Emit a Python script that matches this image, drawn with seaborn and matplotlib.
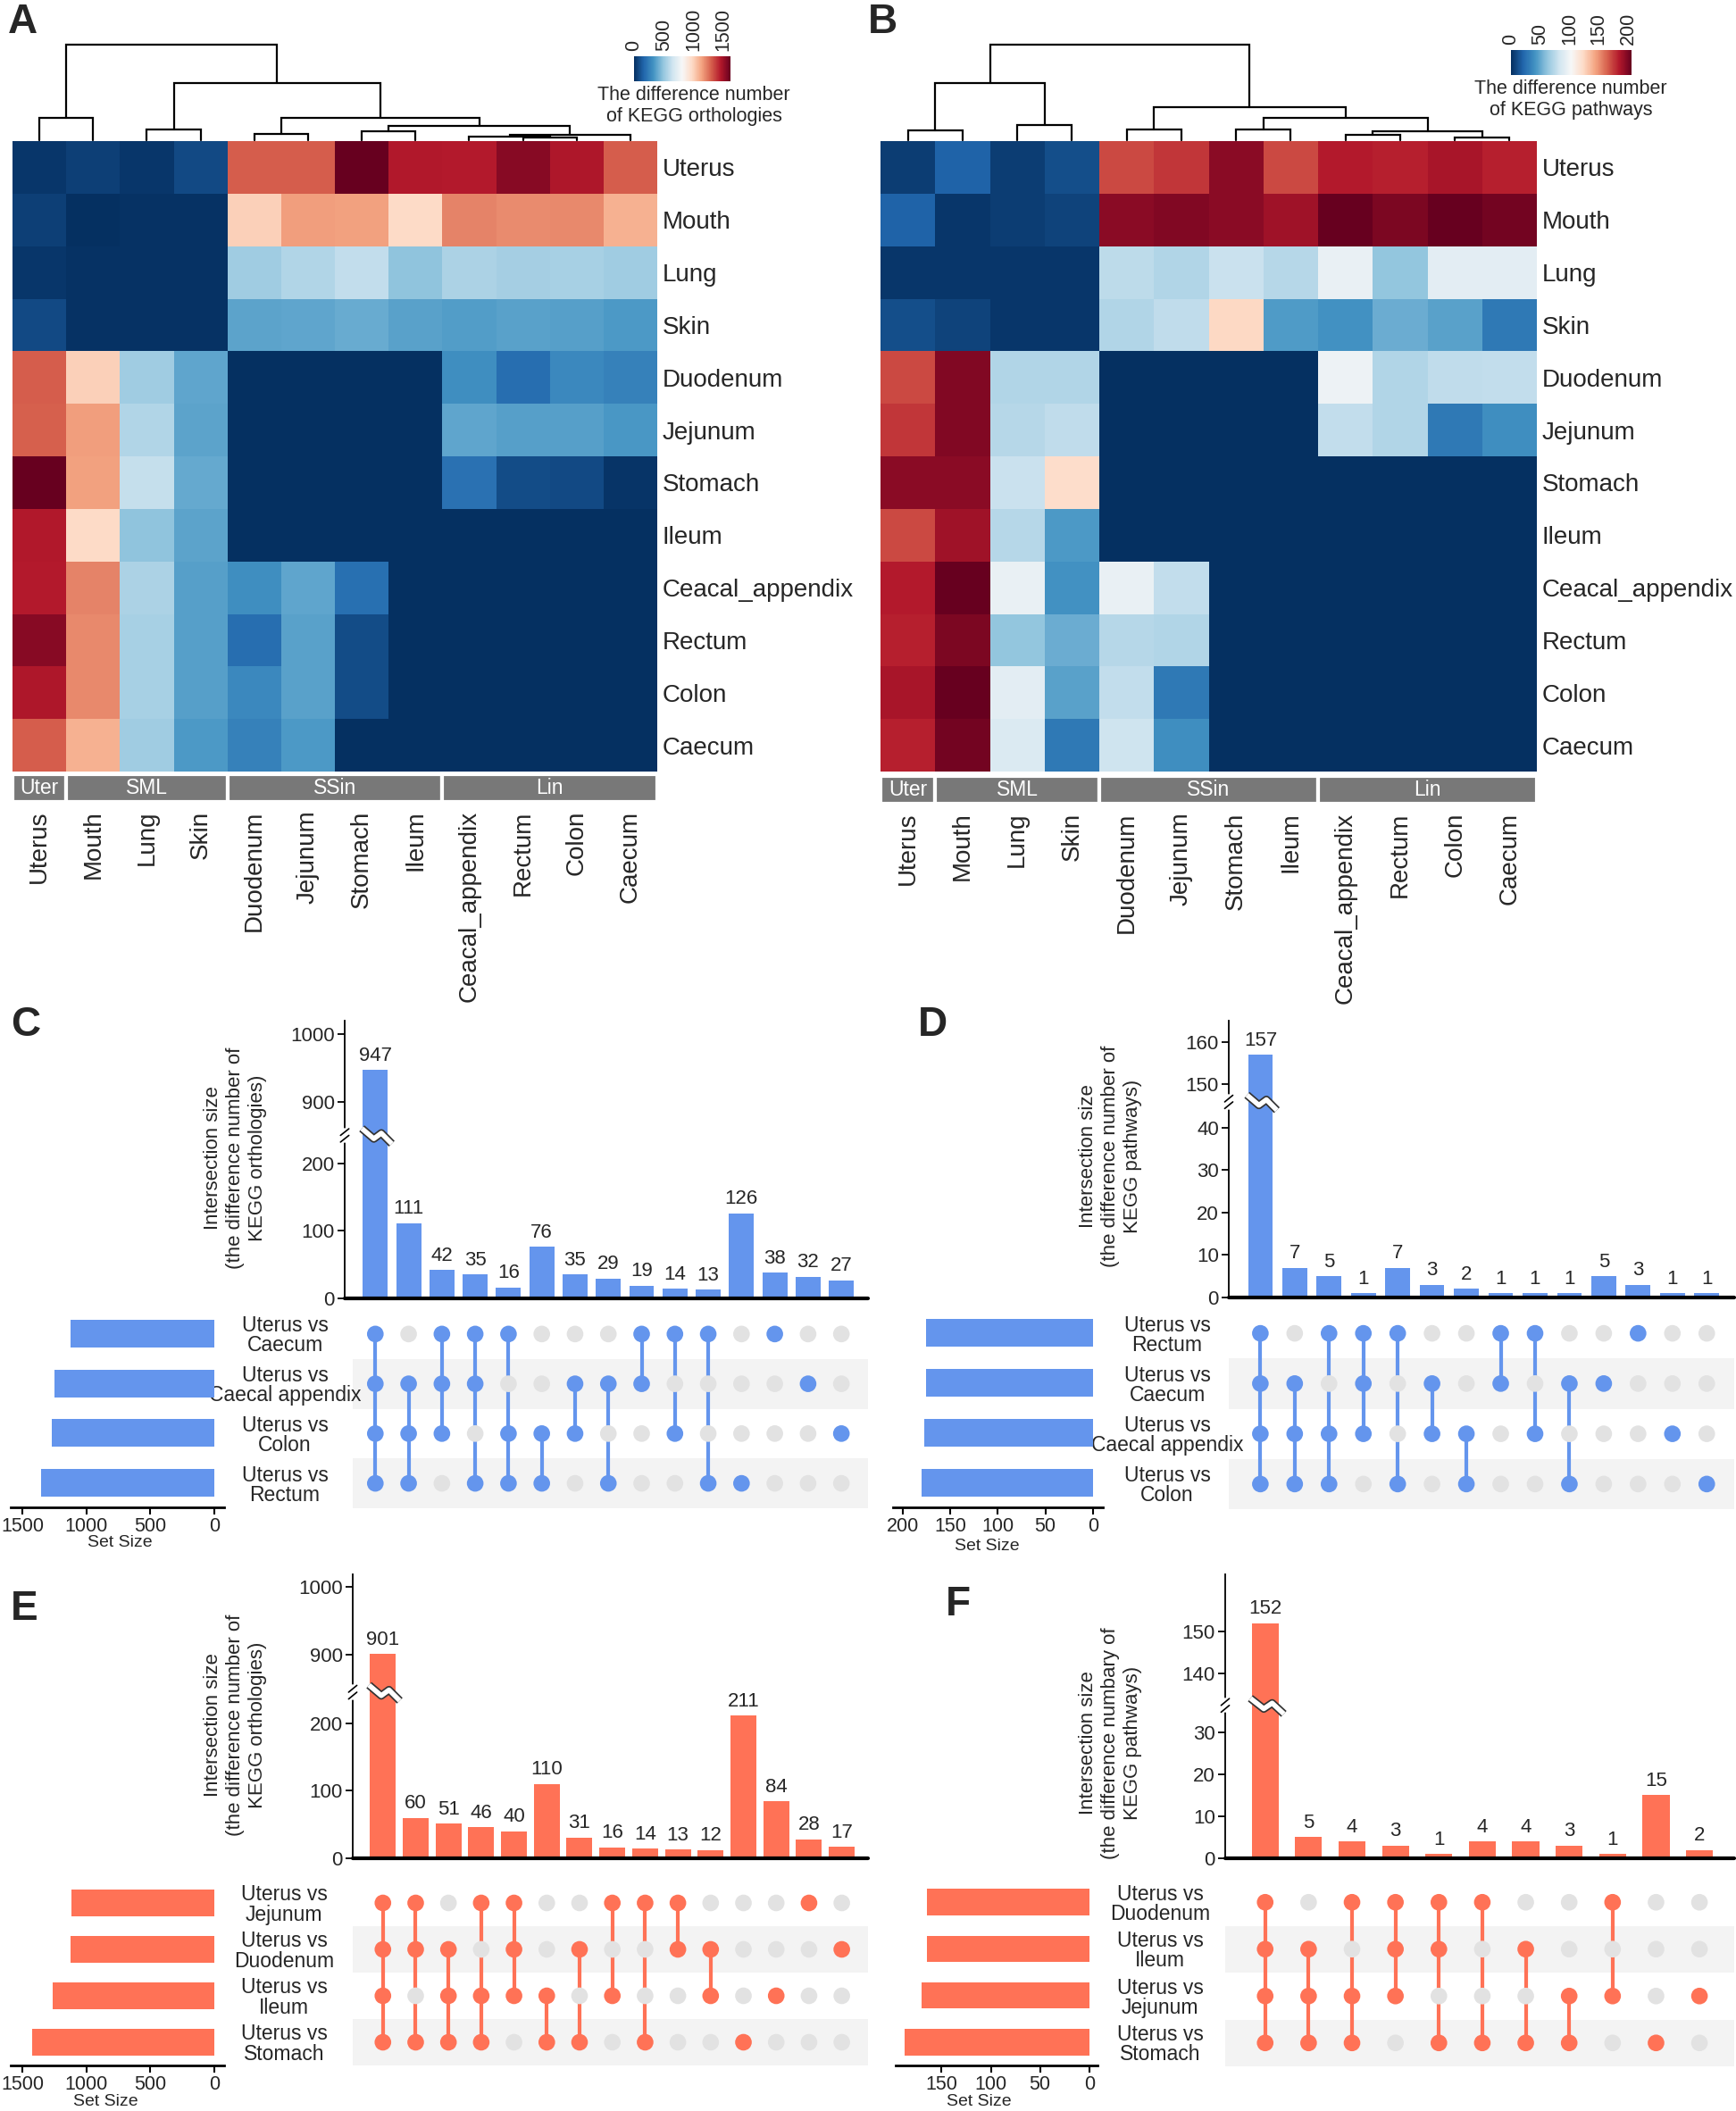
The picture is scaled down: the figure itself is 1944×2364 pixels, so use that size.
import numpy as np
import pandas as pd
import matplotlib
matplotlib.use("Agg")
import matplotlib.pyplot as plt
import matplotlib.transforms as mtransforms
import seaborn as sns

sns.set_theme(style="white")
plt.rcParams['font.family'] = ['Liberation Sans', 'DejaVu Sans']

# ------------------------------------------------------------------ data
tissues = ["Uterus", "Mouth", "Lung", "Skin", "Duodenum", "Jejunum", "Stomach",
           "Ileum", "Ceacal_appendix", "Rectum", "Colon", "Caecum"]
groups = ["Uter", "SML", "SSin", "Lin"]
group_sizes = [1, 3, 4, 4]

ko_matrix = [
    [20, 50, 25, 80, 1300, 1300, 1620, 1460, 1455, 1545, 1465, 1300],
    [50, 5, 10, 10, 1005, 1150, 1140, 970, 1210, 1190, 1200, 1100],
    [20, 10, 10, 10, 520, 565, 610, 486, 555, 535, 540, 525],
    [80, 10, 10, 10, 375, 380, 400, 370, 360, 368, 365, 345],
    [1300, 1005, 520, 380, 0, 0, 0, 0, 310, 195, 290, 265],
    [1295, 1150, 565, 375, 0, 0, 0, 0, 385, 365, 365, 340],
    [1620, 1140, 615, 395, 0, 0, 0, 0, 205, 85, 80, 15],
    [1460, 970, 486, 375, 0, 0, 0, 0, 0, 0, 0, 0],
    [1455, 1210, 555, 365, 310, 385, 200, 0, 0, 0, 0, 0],
    [1545, 1200, 540, 365, 190, 370, 85, 0, 0, 0, 0, 0],
    [1465, 1200, 540, 365, 290, 370, 85, 0, 0, 0, 0, 0],
    [1300, 1100, 525, 345, 265, 345, 0, 0, 0, 0, 0, 0],
]
path_matrix = [
    [5, 20, 5, 12, 171, 177, 196, 171, 185, 183, 188, 183],
    [20, 3, 5, 8, 196, 198, 196, 190, 206, 200, 206, 202],
    [3, 3, 3, 3, 76, 72, 80, 74, 95, 62, 92, 92],
    [12, 8, 3, 3, 72, 77, 124, 45, 41, 52, 47, 29],
    [171, 198, 72, 72, 0, 0, 0, 0, 98, 72, 77, 78],
    [177, 198, 74, 77, 0, 0, 0, 0, 78, 72, 29, 39],
    [196, 196, 80, 122, 0, 0, 0, 0, 0, 0, 0, 0],
    [171, 190, 74, 44, 0, 0, 0, 0, 0, 0, 0, 0],
    [185, 206, 95, 41, 95, 78, 0, 0, 0, 0, 0, 0],
    [183, 200, 62, 52, 74, 72, 0, 0, 0, 0, 0, 0],
    [188, 206, 92, 47, 78, 29, 0, 0, 0, 0, 0, 0],
    [183, 202, 88, 29, 82, 39, 0, 0, 0, 0, 0, 0],
]
ko_ticks = [0, 500, 1000, 1500]
path_ticks = [0, 50, 100, 150, 200]

# dendrogram merges (left node, right node, relative height); leaves 0..11, new nodes 12..
ko_merges = [(0, 1, 0.234), (2, 3, 0.115), (4, 5, 0.067), (6, 7, 0.090),
             (9, 10, 0.032), (8, 16, 0.042), (17, 11, 0.058), (15, 18, 0.147),
             (14, 19, 0.230), (13, 20, 0.600), (12, 21, 1.000)]
path_merges = [(0, 1, 0.105), (2, 3, 0.160), (12, 13, 0.600), (4, 5, 0.110),
               (6, 7, 0.110), (8, 9, 0.057), (10, 11, 0.032), (17, 18, 0.095),
               (16, 19, 0.232), (15, 20, 0.350), (14, 21, 1.000)]

# UpSet panels
C_sets = ["Uterus vs\nCaecum", "Uterus vs\nCaecal appendix", "Uterus vs\nColon", "Uterus vs\nRectum"]
C_combos = ["1111", "0111", "1110", "1101", "1011", "0011", "0110", "0101",
            "1100", "1010", "1001", "0001", "1000", "0100", "0010"]
C_counts = [947, 111, 42, 35, 16, 76, 35, 29, 19, 14, 13, 126, 38, 32, 27]

D_sets = ["Uterus vs\nRectum", "Uterus vs\nCaecum", "Uterus vs\nCaecal appendix", "Uterus vs\nColon"]
D_combos = ["1111", "0111", "1011", "1110", "1001", "0110", "0011",
            "1100", "1010", "0101", "0100", "1000", "0010", "0001"]
D_counts = [157, 7, 5, 1, 7, 3, 2, 1, 1, 1, 5, 3, 1, 1]

E_sets = ["Uterus vs\nJejunum", "Uterus vs\nDuodenum", "Uterus vs\nIleum", "Uterus vs\nStomach"]
E_combos = ["1111", "1101", "0111", "1011", "1110", "0011", "0101", "1010",
            "1001", "1100", "0110", "0001", "0010", "1000", "0100"]
E_counts = [901, 60, 51, 46, 40, 110, 31, 16, 14, 13, 12, 211, 84, 28, 17]

F_sets = ["Uterus vs\nDuodenum", "Uterus vs\nIleum", "Uterus vs\nJejunum", "Uterus vs\nStomach"]
F_combos = ["1111", "0111", "1011", "1110", "1101", "1001", "0101", "0011",
            "1010", "0001", "0010"]
F_counts = [152, 5, 4, 3, 1, 4, 4, 3, 1, 15, 2]

ko_bar_ticks = [0, 100, 200, 900, 1000]
path_bar_ticks_D = [0, 10, 20, 30, 40, 150, 160]
path_bar_ticks_F = [0, 10, 20, 30, 140, 150]
ko_size_ticks = [1500, 1000, 500, 0]
D_size_ticks = [200, 150, 100, 50, 0]
F_size_ticks = [150, 100, 50, 0]

BLUE = "#6495ED"
RED = "#FF7256"
GRAY_DOT = "#E2E2E2"

# ------------------------------------------------------------------ figure
W, H = 1944, 2364
fig = plt.figure(figsize=(W / 100, H / 100), dpi=100)


def add_ax(l, t, r, b):
    a = fig.add_axes([l / W, 1 - b / H, (r - l) / W, (b - t) / H])
    a.patch.set_visible(False)
    return a


def ftext(x, y, s, **kw):
    fig.text(x / W, 1 - y / H, s, **kw)


def draw_dendro(box, merges, n):
    ax = add_ax(*box)
    xs = {i: i + 0.5 for i in range(n)}
    ys = {i: 0.0 for i in range(n)}
    for k, (a, b, h) in enumerate(merges):
        ax.plot([xs[a], xs[a], xs[b], xs[b]], [ys[a], h, h, ys[b]],
                color="black", lw=1.6, clip_on=False, solid_joinstyle="miter")
        xs[n + k] = (xs[a] + xs[b]) / 2
        ys[n + k] = h
    ax.set_xlim(0, n)
    ax.set_ylim(0, 1)
    ax.axis("off")


def draw_heat(box, matrix, vmax):
    ax = add_ax(*box)
    df = pd.DataFrame(matrix, index=tissues, columns=tissues)
    sns.heatmap(df, ax=ax, cmap="RdBu_r", vmin=0, vmax=vmax, cbar=False,
                xticklabels=False, yticklabels=tissues, linewidths=0)
    ax.yaxis.tick_right()
    ax.tick_params(axis="y", length=0, pad=4, labelsize=20, labelrotation=0, right=True, left=False)
    ax.set_xlabel("")
    ax.set_ylabel("")
    return ax


def draw_groupbar(box):
    ax = add_ax(*box)
    starts = np.cumsum([0] + group_sizes[:-1])
    ax.bar(starts, [1] * len(groups), width=group_sizes, align="edge",
           color="#787878", edgecolor="white", linewidth=3)
    for s, w, g in zip(starts, group_sizes, groups):
        ax.text(s + w / 2, 0.5, g, color="white", ha="center", va="center", fontsize=16.5)
    ax.set_xlim(0, len(tissues))
    ax.set_ylim(0, 1)
    ax.set_xticks(np.arange(len(tissues)) + 0.5)
    ax.set_xticklabels(tissues, rotation=90, fontsize=20)
    ax.tick_params(axis="x", length=0, pad=7, bottom=True)
    ax.set_yticks([])
    for s in ax.spines.values():
        s.set_visible(False)


def draw_cbar(box, heat_ax, ticks, title, title_xy):
    cax = add_ax(*box)
    cb = fig.colorbar(heat_ax.collections[0], cax=cax, orientation="horizontal", ticks=ticks)
    cb.outline.set_visible(False)
    cax.tick_params(axis="x", direction="in", color="white", length=5, width=1.2,
                    top=True, bottom=True, labeltop=True, labelbottom=False,
                    labelrotation=90, labelsize=15.5, pad=4)
    ftext(title_xy[0], title_xy[1], title, ha="center", va="top", fontsize=15.5, linespacing=1.2)


def draw_upset(bar_box, mat_box, size_box, sets, combos, counts, color, ticks, top, brk,
               bw, size_ticks, size_lim, lab_cx, ylab, ylab_xy, setsize_xy):
    n = len(counts)
    nsets = len(sets)
    B, U = brk
    eps = 1e-3
    g = B + (U - B) * eps

    def fwd(y):
        y = np.asarray(y, float)
        return np.where(y <= B, y, np.where(y >= U, g + (y - U), B + (y - B) * eps))

    def inv(t):
        t = np.asarray(t, float)
        return np.where(t <= B, t, np.where(t >= g, U + (t - g), B + (t - B) / eps))

    # ---- intersection bars
    ax = add_ax(*bar_box)
    sns.barplot(x=list(range(n)), y=counts, color=color, saturation=1, width=bw,
                errorbar=None, ax=ax, edgecolor="none")
    ax.set_yscale("function", functions=(fwd, inv))
    ax.set_ylim(0, top)
    xl = (-0.92, n - 0.2)
    ax.set_xlim(*xl)
    ax.set_yticks(ticks)
    ax.set_yticklabels([str(t) for t in ticks])
    ax.set_xticks([])
    ax.set_xlabel("")
    ax.set_ylabel("")
    for s in ["top", "right", "bottom"]:
        ax.spines[s].set_visible(False)
    ax.spines["left"].set_color("black")
    ax.spines["left"].set_linewidth(1.3)
    ax.axhline(0, color="black", lw=3, clip_on=False)
    ax.tick_params(axis="y", left=True, length=6, width=1.3, color="black", labelsize=16, pad=2)
    ax.bar_label(ax.containers[0], labels=[str(c) for c in counts], padding=4, fontsize=16)

    yb = float((fwd(B) - fwd(0)) / (fwd(top) - fwd(0)))
    trans = mtransforms.blended_transform_factory(ax.transData, ax.transAxes)
    ib = int(np.argmax(counts))
    x0, x1 = ib - bw / 2 - 0.03, ib + bw / 2 + 0.12
    zx = [x0, x0 + 0.4 * (x1 - x0), x0 + 0.65 * (x1 - x0), x1]
    zy = [yb + 0.025, yb - 0.012, yb + 0.008, yb - 0.03]
    ax.plot(zx, zy, transform=trans, color="#333333", lw=6.5, clip_on=False, zorder=5,
            solid_capstyle="butt")
    ax.plot(zx, zy, transform=trans, color="white", lw=4, clip_on=False, zorder=6,
            solid_capstyle="butt")
    ax.plot([0, 0], [yb - 0.018, yb + 0.018], transform=ax.transAxes, color="white", lw=4,
            clip_on=False, zorder=6)
    for dy in (-0.012, 0.012):
        ax.plot([-0.008, 0.008], [yb + dy - 0.012, yb + dy + 0.012], transform=ax.transAxes,
                color="black", lw=1.2, clip_on=False, zorder=7)

    # ---- matrix
    axm = add_ax(*mat_box)
    ppu = (bar_box[2] - bar_box[0]) / (xl[1] - xl[0])
    axm.set_xlim(xl[0] + (mat_box[0] - bar_box[0]) / ppu, xl[1])
    recs = []
    for j, combo in enumerate(combos):
        for i, ch in enumerate(combo):
            recs.append((j, i, ch == "1"))
    dfm = pd.DataFrame(recs, columns=["col", "row", "member"])
    for i in range(nsets):
        if i % 2 == 1:
            axm.axhspan(i - 0.5, i + 0.5, color="#F3F3F3", lw=0, zorder=0)
    for j, combo in enumerate(combos):
        idx = [i for i, ch in enumerate(combo) if ch == "1"]
        if len(idx) > 1:
            axm.vlines(j, min(idx), max(idx), color=color, lw=3, zorder=2)
    sns.scatterplot(data=dfm, x="col", y="row", hue="member",
                    palette={True: color, False: GRAY_DOT}, s=180, linewidth=0,
                    legend=False, ax=axm, zorder=3)
    axm.set_ylim(nsets - 0.5, -0.5)
    axm.set_xlabel("")
    axm.set_ylabel("")
    axm.set_xticks([])
    axm.set_yticks(range(nsets))
    axm.set_yticklabels(sets, fontsize=16.5, linespacing=0.95)
    pad_pt = (mat_box[0] - lab_cx) * 72 / 100
    axm.tick_params(axis="y", length=0, pad=pad_pt, left=False)
    for t in axm.get_yticklabels():
        t.set_horizontalalignment("center")
        t.set_multialignment("center")
    for s in axm.spines.values():
        s.set_visible(False)

    # ---- set sizes
    axs = add_ax(*size_box)
    sizes = [sum(c for c, combo in zip(counts, combos) if combo[i] == "1") for i in range(nsets)]
    sns.barplot(x=sizes, y=list(range(nsets)), orient="h", color=color, saturation=1,
                width=0.56, errorbar=None, ax=axs, edgecolor="none")
    axs.set_xlim(*size_lim)
    axs.set_ylim(nsets - 0.5, -0.5)
    axs.set_yticks([])
    axs.set_xticks(size_ticks)
    axs.set_xticklabels([str(t) for t in size_ticks])
    axs.set_xlabel("")
    axs.set_ylabel("")
    for s in ["top", "right", "left"]:
        axs.spines[s].set_visible(False)
    axs.spines["bottom"].set_color("black")
    axs.spines["bottom"].set_linewidth(2)
    axs.tick_params(axis="x", bottom=True, length=6, width=1.5, color="black", labelsize=15.5, pad=2)
    ftext(setsize_xy[0], setsize_xy[1], "Set Size", ha="center", va="center", fontsize=14)
    ftext(ylab_xy[0], ylab_xy[1], ylab, ha="center", va="center", rotation=90,
          fontsize=16, linespacing=1.25, multialignment="center")


# ------------------------------------------------------------------ panels A & B
draw_dendro((14, 50, 736, 157), ko_merges, len(tissues))
hA = draw_heat((14, 158, 736, 864), ko_matrix, 1620)
draw_groupbar((14, 867, 736, 898))
draw_cbar((710, 63, 818, 91), hA, ko_ticks, "The difference number\nof KEGG orthologies", (777, 96))

draw_dendro((986, 50, 1721, 157), path_merges, len(tissues))
hB = draw_heat((986, 158, 1721, 864), path_matrix, 206)
draw_groupbar((986, 869, 1721, 900))
draw_cbar((1692, 56, 1827, 84), hB, path_ticks, "The difference number\nof KEGG pathways", (1759, 89))

# ------------------------------------------------------------------ panels C-F
ylab_ko = "Intersection size\n(the difference number of\nKEGG orthologies)"
draw_upset((386, 1143, 972, 1454), (395, 1466, 972, 1689), (12, 1466, 251, 1688),
           C_sets, C_combos, C_counts, BLUE, ko_bar_ticks, 1020, (241, 851), 0.75,
           ko_size_ticks, (1590, -77), 319, ylab_ko, (263, 1297), (134, 1727))
draw_upset((1376, 1143, 1942, 1453), (1376, 1465, 1942, 1690), (1000, 1465, 1235, 1688),
           D_sets, D_combos, D_counts, BLUE, path_bar_ticks_D, 165, (46, 146), 0.72,
           D_size_ticks, (210, -10.5), 1307,
           "Intersection size\n(the difference number of\nKEGG pathways)", (1243, 1295), (1105, 1731))
draw_upset((395, 1763, 972, 2081), (395, 2105, 972, 2313), (12, 2105, 251, 2313),
           E_sets, E_combos, E_counts, RED, ko_bar_ticks, 1019, (246, 845), 0.79,
           ko_size_ticks, (1591, -77), 318, ylab_ko, (263, 1932), (118, 2354))
draw_upset((1372, 1763, 1942, 2081), (1372, 2104, 1942, 2314), (1003, 2104, 1229, 2313),
           F_sets, F_combos, F_counts, RED, path_bar_ticks_F, 163.7, (36.4, 132.6), 0.62,
           F_size_ticks, (196.7, -8.4), 1299,
           "Intersection size\n(the difference numbary of\nKEGG pathways)", (1243, 1952), (1096, 2354))

# ------------------------------------------------------------------ panel letters
for letter, (lx, ly) in zip("ABCDEF", [(9, 3), (972, 3), (12, 1126), (1028, 1126),
                                       (12, 1780), (1059, 1775)]):
    ftext(lx, ly, letter, ha="left", va="top", fontsize=33, fontweight="bold")

fig.savefig("out.png", dpi=100, facecolor="white")
